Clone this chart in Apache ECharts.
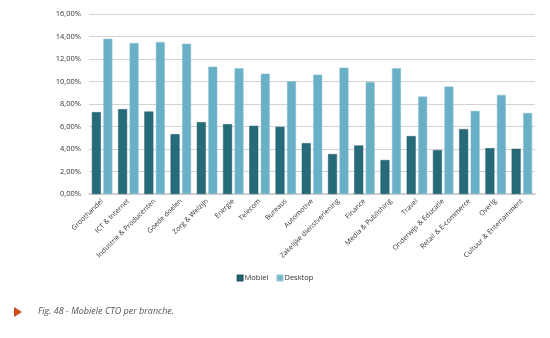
<!DOCTYPE html>
<html><head><meta charset="utf-8">
<script src="https://cdn.jsdelivr.net/npm/echarts@6/dist/echarts.min.js"></script>
<style>html,body{margin:0;padding:0;background:#fff;}#c{width:550px;height:338px;}</style>
</head><body><div id="c"></div>
<script>
const categories = ["Groothandel","ICT & Internet","Industrie & Producenten","Goede doelen","Zorg & Welzijn","Energie","Telecom","Bureaus","Automotive","Zakelijke dienstverlening","Finance","Media & Publishing","Travel","Onderwijs & Educatie","Retail & E-commerce","Overig","Cultuur & Entertainment"];
const mobiel = [7.28,7.54,7.33,5.32,6.39,6.21,6.06,5.97,4.52,3.55,4.31,3.02,5.15,3.90,5.77,4.08,4.02];
const desktop = [13.80,13.43,13.51,13.36,11.32,11.18,10.70,10.03,10.61,11.23,9.96,11.18,8.66,9.55,7.39,8.81,7.21];
const seriesNames = ["Mobiel","Desktop"];
const caption = "Fig. 48 - Mobiele CTO per branche.";
const font = "'Open Sans', sans-serif";
const chart = echarts.init(document.getElementById('c'));
chart.setOption({
  animation:false,
  backgroundColor:'#fff',
  grid:{left:89,right:15,top:14,bottom:144},
  legend:{
    data:seriesNames, left:'center', top:269, itemWidth:5, itemHeight:5, itemGap:8,
    icon:'rect', textStyle:{fontSize:7.5,color:'#333',fontFamily:font,padding:[0,0,0,-3]}
  },
  xAxis:{
    type:'category', data:categories,
    axisLine:{lineStyle:{color:'#c8c8c8',width:1.5}},
    axisTick:{show:false},
    axisLabel:{rotate:45,interval:0,fontSize:7,color:'#333',fontFamily:font,margin:6}
  },
  yAxis:{
    type:'value', min:0, max:16, interval:2,
    axisLine:{show:false}, axisTick:{show:false},
    splitLine:{lineStyle:{color:'#d2d2d2',width:1.2}},
    axisLabel:{fontSize:7.5,color:'#333',fontFamily:font,margin:8,
      formatter:v=>v.toFixed(2).replace('.',',')+'%'}
  },
  series:[
    {name:seriesNames[0],type:'bar',data:mobiel,barGap:'28%',barCategoryGap:'22%',
     itemStyle:{color:'#266b7a',borderColor:'#1e5a67',borderWidth:0.5}},
    {name:seriesNames[1],type:'bar',data:desktop,
     itemStyle:{color:'#69afc5',borderColor:'#8cc3d4',borderWidth:0.5}}
  ],
  graphic:[
    {type:'polygon',shape:{points:[[14,307],[22,312],[14,317]]},style:{fill:'#d04a1c'}},
    {type:'text',left:38,top:307,style:{text:caption,fontSize:9,fontStyle:'italic',fill:'#555',fontFamily:font}}
  ]
});
</script></body></html>
